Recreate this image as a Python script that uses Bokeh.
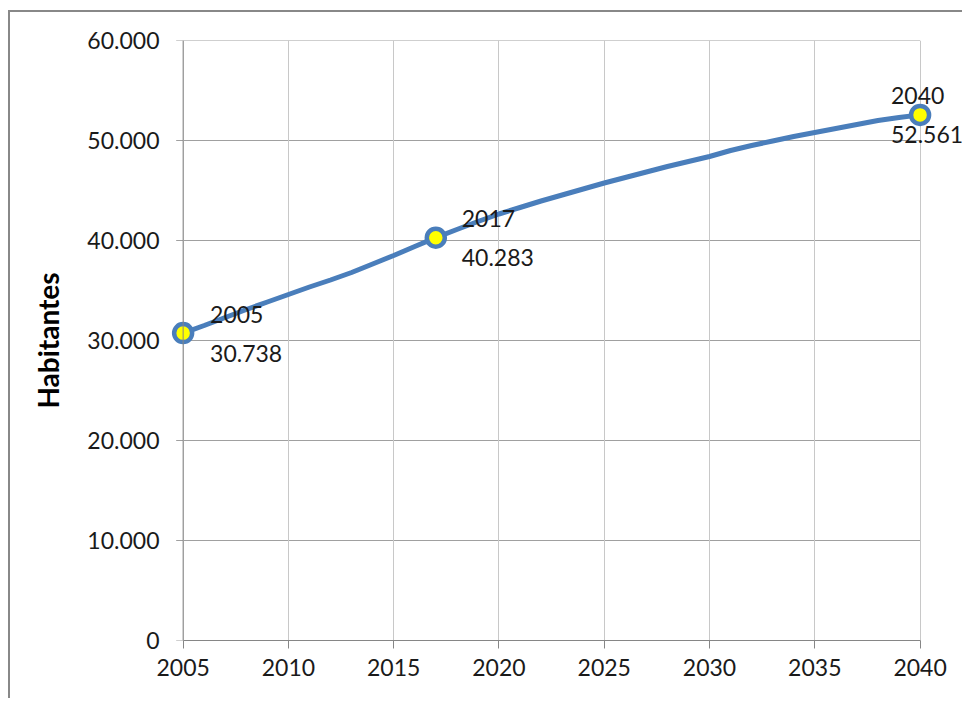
from bokeh.plotting import figure
from bokeh.models import (ColumnDataSource, FixedTicker, CustomJSTickFormatter, Range1d,
                          Span, LabelSet)
from bokeh.core.properties import value
from bokeh.embed import file_html
from bokeh.resources import INLINE

years = list(range(2005, 2041))
habitantes = [30738, 31500, 32300, 33100, 33850, 34600, 35350, 36050, 36800, 37650,
              38500, 39400, 40283, 41100, 41900, 42650, 43300, 43950, 44550, 45150,
              45750, 46300, 46850, 47400, 47900, 48400, 49000, 49500, 49950, 50400,
              50800, 51200, 51600, 52000, 52300, 52561]
label_years = [2005, 2017, 2040]
x_ticks = [2005, 2010, 2015, 2020, 2025, 2030, 2035, 2040]
y_ticks = [0, 10000, 20000, 30000, 40000, 50000, 60000]
y_label = "Habitantes"

# label offsets in screen pixels (style)
label_dx = [63, 62, 7]

def fmt(v):
    return f"{v:,}".replace(",", ".")

lab_vals = [habitantes[years.index(y)] for y in label_years]
lab_text = [f"{y}\n{fmt(v)}" for y, v in zip(label_years, lab_vals)]

FONT = "Lato"
X0, X1 = x_ticks[0], x_ticks[-1]
PAD_L = 0.6    # years of padding so markers are not clipped
PAD_R = 2.11   # room on the right for the last label
TICK = 0.33    # tick length (~7px) expressed in years

p = figure(width=954, height=688, output_backend="svg", toolbar_location=None,
           x_range=Range1d(X0 - PAD_L, X1 + PAD_R), y_range=Range1d(0, 60000),
           min_border_left=160, min_border_right=0, min_border_top=28, min_border_bottom=60)
p.styles = {"border-top": "2px solid #888888", "border-left": "2px solid #888888",
            "margin-top": "10px", "margin-left": "8px"}
p.outline_line_color = None
p.background_fill_color = "white"
p.border_fill_color = "white"

p.xaxis.ticker = FixedTicker(ticks=x_ticks)
p.yaxis.ticker = FixedTicker(ticks=y_ticks)
p.yaxis.formatter = CustomJSTickFormatter(code="""
return tick.toFixed(0).replace(/\\B(?=(\\d{3})+(?!\\d))/g, ".");
""")

for ax in (p.xaxis, p.yaxis):
    ax.axis_line_color = "#868686"
    ax.axis_line_width = 1
    ax.major_tick_line_color = "#868686"
    ax.major_tick_in = 0
    ax.minor_tick_line_color = None
    ax.major_label_text_font = FONT
    ax.major_label_text_font_size = "23px"
    ax.major_label_text_color = "#1a1a1a"
p.xaxis.bounds = (X0, X1)
p.xaxis.major_tick_out = 8
p.xaxis.major_label_standoff = 10
p.yaxis.axis_line_color = None
p.yaxis.major_tick_line_color = None
p.yaxis.major_tick_out = 0
p.yaxis.major_label_standoff = 11
p.yaxis.axis_label = y_label
p.yaxis.axis_label_text_font = FONT
p.yaxis.axis_label_text_font_style = "bold"
p.yaxis.axis_label_text_font_size = "28px"
p.yaxis.axis_label_text_color = "black"
p.yaxis.axis_label_standoff = 19

p.xgrid.grid_line_color = "#C8C8C8"
p.xgrid.grid_line_width = 1
p.ygrid.grid_line_color = None

# horizontal gridlines (with the outside tick stub) limited to the data span
p.segment(x0=[X0 - TICK] * len(y_ticks), x1=[X1] * len(y_ticks), y0=y_ticks, y1=y_ticks,
          line_color="#A0A0A0", line_width=1, level="underlay")

p.add_layout(Span(location=X0, dimension="height", line_color="#868686", line_width=1))

src = ColumnDataSource(dict(x=years, y=habitantes))
p.line("x", "y", source=src, line_color="#4A7EBB", line_width=5)

lsrc = ColumnDataSource(dict(x=label_years, y=lab_vals, t=lab_text, dx=label_dx))
p.scatter("x", "y", source=lsrc, size=18, fill_color="#FFFF00", line_color="#4A7EBB", line_width=4.5)
p.add_layout(LabelSet(x="x", y="y", text="t", source=lsrc, x_offset="dx",
                      text_align="center", text_baseline="middle", text_font=value(FONT),
                      text_font_size="23px", text_color="#1a1a1a", text_line_height=1.4))

open("out.html", "w").write(file_html(p, INLINE))
